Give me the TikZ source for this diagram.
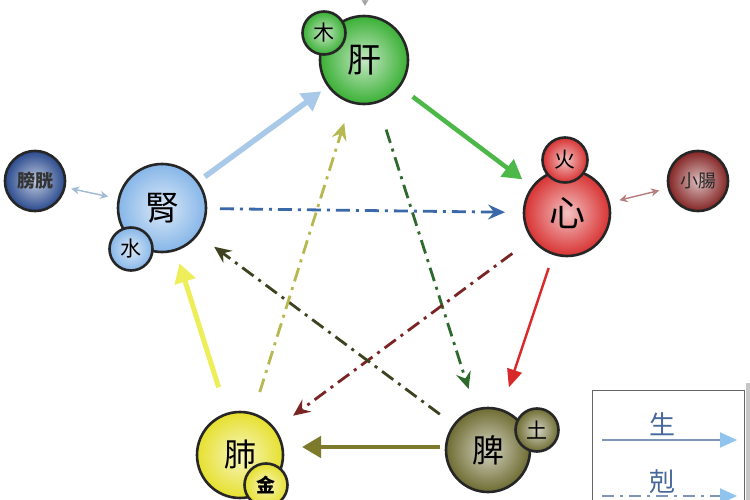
\documentclass[tikz,border=0pt]{standalone}
\usepackage{fontspec}
\newfontfamily\cjk{Noto Sans CJK TC}
\usetikzlibrary{arrows.meta,calc}
\definecolor{cLiv}{HTML}{3AB035}
\definecolor{cKid}{HTML}{86B6E8}
\definecolor{cBla}{HTML}{2A4A8E}
\definecolor{cHrt}{HTML}{D83232}
\definecolor{cSi}{HTML}{842424}
\definecolor{cLun}{HTML}{E6E02E}
\definecolor{cSpl}{HTML}{6E6C32}
\definecolor{aBlue}{HTML}{A9C9E9}
\definecolor{aGreen}{HTML}{4CB848}
\definecolor{aRed}{HTML}{D82A2A}
\definecolor{aOlive}{HTML}{7E7A2C}
\definecolor{aYel}{HTML}{EEEE5A}
\definecolor{kBlue}{HTML}{3A68A8}
\definecolor{kGreen}{HTML}{2E6A2E}
\definecolor{kRed}{HTML}{7A2424}
\definecolor{kOlive}{HTML}{3E4220}
\definecolor{kYel}{HTML}{B8B850}
\definecolor{legTxt}{HTML}{46689A}
\definecolor{legTip}{HTML}{8EC4EE}
\tikzset{
  ball/.style 2 args={circle, draw=black!85, line width=2.6pt, inner sep=0pt,
    minimum size=#2, inner color=#1!30!white, outer color=#1, font=\cjk},
  sheng/.style={line width=5.5pt, -{Triangle[length=19pt,width=21pt]}},
  shengthin/.style={line width=2.4pt, -{Triangle[length=18pt,width=15pt]}},
  ke/.style={line width=2.8pt, dash pattern=on 14pt off 6pt on 3pt off 6pt,
    -{Stealth[length=17pt,width=15pt,inset=6pt]}},
  pair/.style={line width=1.4pt, {Stealth[length=8pt,width=8pt,open]}-{Stealth[length=8pt,width=8pt,open]}},
  legarrow/.style={line width=2pt, color=legTxt!70!white, -{Triangle[length=17pt,width=15pt,color=legTip,fill=legTip]}},
  smallfont/.style={font=\cjk\fontsize{21}{21}\selectfont},
}
\begin{document}
\begin{tikzpicture}[x=1pt,y=-1pt]
\useasboundingbox[fill=white] (0,0) rectangle (750,500);
% top stray arrow
\coordinate (topA) at (365,-20);
\coordinate (topB) at (365,6);
\draw[gray!70, line width=1.5pt, -{Stealth[length=7pt,width=8pt]}] (topA) -- (topB);
% centres
\coordinate (liv) at (364,60);
\coordinate (kid) at (162,208);
\coordinate (hrt) at (567,213);
\coordinate (lun) at (240,455);
\coordinate (spl) at (488,450);
% ke (dash-dot) arrows
\draw[ke, kBlue] ($(kid)!58pt!(hrt)$) -- ($(hrt)!62pt!(kid)$);
\draw[ke, kGreen] ($(liv)!73pt!(spl)$) -- ($(spl)!64pt!(liv)$);
\draw[ke, kRed] ($(hrt)!68pt!(lun)$) -- ($(lun)!66pt!(hrt)$);
\draw[ke, kOlive] ($(spl)!60pt!(kid)$) -- ($(kid)!65pt!(spl)$);
\draw[ke, kYel] ($(lun)!66pt!(liv)$) -- ($(liv)!66pt!(lun)$);
% sheng arrows
\draw[sheng, aBlue] ($(kid)!53pt!(liv)$) -- ($(liv)!53pt!(kid)$);
\draw[sheng, aGreen, line width=4.5pt] ($(liv)!61pt!(hrt)$) -- ($(hrt)!56pt!(liv)$);
\draw[shengthin, aRed] ($(hrt)!58pt!(spl)$) -- ($(spl)!66pt!(hrt)$);
\draw[sheng, aOlive, line width=4.5pt] ($(spl)+(-48,-3)$) -- ($(lun |- spl)+(62,-3)$);
\draw[sheng, aYel, line width=5pt] ($(lun)!71pt!(kid)$) -- ($(kid)!58pt!(lun)$);
% organs
\node[ball={cLiv}{88pt}, font=\cjk\fontsize{34}{34}\selectfont] (nLiv) at (liv) {肝};
\node[ball={cLiv}{43pt}, smallfont] (nWood) at (324,33) {木};
\node[ball={cKid}{88pt}, font=\cjk\fontsize{34}{34}\selectfont] (nKid) at (kid) {腎};
\node[ball={cKid}{43pt}, smallfont] (nWater) at (131,249) {水};
\node[ball={cHrt}{86pt}, font=\cjk\fontsize{36}{36}\selectfont] (nHrt) at (hrt) {心};
\node[ball={cHrt}{45pt}, smallfont] (nFire) at (565,160) {火};
\node[ball={cLun}{86pt}, font=\cjk\fontsize{32}{32}\selectfont] (nLun) at (lun) {肺};
\node[ball={cLun}{43pt}, font=\cjk\bfseries\fontsize{19}{19}\selectfont] (nMetal) at (266,485) {金};
\node[ball={cSpl}{84pt}, font=\cjk\fontsize{32}{32}\selectfont] (nSpl) at (spl) {脾};
\node[ball={cSpl}{43pt}, smallfont] (nEarth) at (537,430) {土};
\node[ball={cBla}{60pt}, font=\cjk\bfseries\fontsize{18}{18}\selectfont, text=black!80] (nBla) at (35,181) {膀胱};
\node[ball={cSi}{60pt}, font=\cjk\fontsize{18}{18}\selectfont, text=black!85] (nSi) at (698,181) {小腸};
% paired arrows
\draw[pair, aBlue!80!gray] ($(nBla.center)!37pt!(nKid.center)$) -- ($(nKid.center)!55pt!(nBla.center)$);
\draw[pair, cSi!60!white] ($(nHrt.center)!54pt!(nSi.center)$) -- ($(nSi.center)!40pt!(nHrt.center)$);
% legend
\fill[gray!45] (746,383) rectangle (750,500);
\node[draw=gray!80!black, line width=1.4pt, fill=white, minimum width=152pt, minimum height=120pt, anchor=north west] (leg) at (592,390) {};
\node[font=\cjk\fontsize{26}{26}\selectfont, text=legTxt] (tS) at (662,424) {生};
\node[font=\cjk\fontsize{26}{26}\selectfont, text=legTxt] (tK) at (662,482) {剋};
\coordinate (s1) at (602,440);
\coordinate (s2) at (737,440);
\coordinate (k1) at (602,496);
\coordinate (k2) at (737,496);
\draw[legarrow] (s1) -- (s2);
\draw[legarrow, dash pattern=on 12pt off 6pt on 3pt off 6pt] (k1) -- (k2);
\end{tikzpicture}
\end{document}
